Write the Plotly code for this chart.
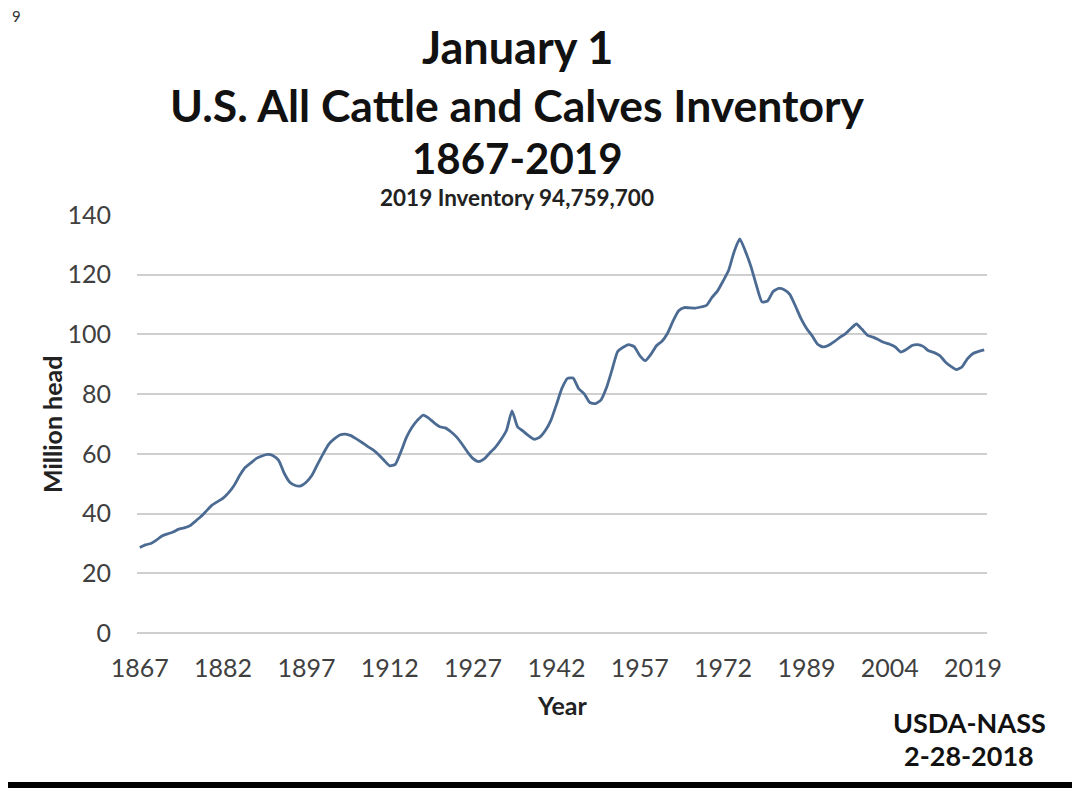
import plotly.graph_objects as go

years = list(range(1867, 2020))
inventory = [
    28.6, 29.5, 30.0, 31.1, 32.5, 33.2, 33.8, 34.8, 35.2, 35.9,   # 1867-1876
    37.4, 39.0, 40.9, 42.8, 44.0, 45.2, 47.0, 49.5, 52.8, 55.5,   # 1877-1886
    57.0, 58.5, 59.3, 59.8, 59.4, 57.8, 53.5, 50.5, 49.4, 49.3,   # 1887-1896
    50.6, 52.8, 56.5, 60.0, 63.2, 65.0, 66.3, 66.6, 66.1, 65.0,   # 1897-1906
    63.8, 62.5, 61.3, 59.7, 57.8, 56.0, 56.5, 60.7, 65.5, 68.9,   # 1907-1916
    71.3, 73.0, 72.0, 70.4, 69.1, 68.7, 67.4, 65.7, 63.3, 60.6,   # 1917-1926
    58.4, 57.4, 58.3, 60.3, 62.2, 64.7, 67.8, 74.4, 69.1, 67.6,   # 1927-1936
    66.1, 64.9, 65.6, 67.8, 71.2, 76.5, 82.0, 85.3, 85.4, 81.8,   # 1937-1946
    80.1, 77.2, 76.8, 78.0, 82.1, 88.1, 94.2, 95.7, 96.6, 95.9,   # 1947-1956
    92.9, 91.2, 93.3, 96.2, 97.7, 100.4, 104.5, 107.9, 109.0, 108.9,  # 1957-1966
    108.8, 109.2, 109.7, 112.4, 114.6, 117.9, 121.5, 127.8, 132.0, 127.9,  # 1967-1976
    122.8, 116.4, 110.9, 111.2, 114.4, 115.4, 115.0, 113.4, 109.6, 105.4,  # 1977-1986
    102.1, 99.6, 96.7, 95.8, 96.4, 97.6, 99.0, 100.2, 102.0, 103.5,  # 1987-1996
    101.7, 99.7, 99.1, 98.2, 97.3, 96.7, 95.8, 94.1, 95.0, 96.3,   # 1997-2006
    96.6, 96.0, 94.5, 93.9, 92.9, 90.8, 89.3, 88.2, 89.1, 91.9,    # 2007-2016
    93.6, 94.3, 94.8,                                              # 2017-2019
]

tick_positions = [1867, 1882, 1897, 1912, 1927, 1942, 1957, 1972, 1987, 2002, 2017]
tick_labels = ["1867", "1882", "1897", "1912", "1927", "1942", "1957", "1972", "1989", "2004", "2019"]
y_ticks = [0, 20, 40, 60, 80, 100, 120, 140]

FONT = "Lato, 'Noto Sans', sans-serif"

# The page body has an 8px margin, so the plot area (screen 137..987 x, 215..633 y)
# is placed with margins reduced by 8px on the left/top.
PL, PR, PT, PB = 137, 987, 215, 633
PW, PH = PR - PL, PB - PT


def px(xs):
    return (xs - PL) / PW


def py(ys):
    return (PB - ys) / PH


fig = go.Figure()
fig.add_trace(go.Scatter(
    x=years, y=inventory, mode="lines",
    line=dict(color="#4c6b93", width=2.8, shape="spline", smoothing=0.5),
    hoverinfo="x+y", showlegend=False,
))

fig.update_layout(
    width=1080, height=788,
    margin=dict(l=PL - 8, r=1080 - PR + 8, t=PT - 8, b=788 - PB + 8),
    paper_bgcolor="white", plot_bgcolor="white",
    font=dict(family=FONT, color="#404040"),
    xaxis=dict(
        range=[1866.5, 2019.5], tickmode="array",
        tickvals=tick_positions, ticktext=tick_labels,
        showgrid=False, zeroline=False, showline=False,
        ticks="outside", ticklen=13, tickcolor="rgba(0,0,0,0)",
        tickfont=dict(size=25, color="#404040", family=FONT),
    ),
    yaxis=dict(
        range=[0, 140], tickmode="array", tickvals=y_ticks,
        showgrid=True, gridcolor="#cfcfcf", gridwidth=1.5,
        zeroline=True, zerolinecolor="#cfcfcf", zerolinewidth=1.5,
        showline=False,
        ticks="outside", ticklen=20, tickcolor="rgba(0,0,0,0)",
        tickfont=dict(size=25, color="#404040", family=FONT),
    ),
)

title_lines = [
    ("January 1", 47, 45),
    ("U.S. All Cattle and Calves Inventory", 104, 44.5),
    ("1867-2019", 158, 42),
]
for text, ypx, size in title_lines:
    fig.add_annotation(
        text=f"<b>{text}</b>", xref="paper", yref="paper",
        x=px(517), y=py(ypx),
        xanchor="center", yanchor="middle", showarrow=False,
        font=dict(size=size, color="#111111", family=FONT),
    )

fig.add_annotation(
    text="<b>2019 Inventory 94,759,700</b>", xref="paper", yref="paper",
    x=px(517), y=py(197),
    xanchor="center", yanchor="middle", showarrow=False,
    font=dict(size=22.5, color="#222222", family=FONT),
)

fig.add_annotation(
    text="<b>Million head</b>", xref="paper", yref="paper",
    x=px(52), y=py(425), textangle=-90,
    xanchor="center", yanchor="middle", showarrow=False,
    font=dict(size=25, color="#222222", family=FONT),
)
fig.add_annotation(
    text="<b>Year</b>", xref="paper", yref="paper",
    x=px(562), y=py(705),
    xanchor="center", yanchor="middle", showarrow=False,
    font=dict(size=25, color="#222222", family=FONT),
)

for text, ypx in [("USDA-NASS", 722), ("2-28-2018", 755)]:
    fig.add_annotation(
        text=f"<b>{text}</b>", xref="paper", yref="paper",
        x=px(969), y=py(ypx),
        xanchor="center", yanchor="middle", showarrow=False,
        font=dict(size=27, color="#111111", family=FONT),
    )

fig.add_annotation(
    text="9", xref="paper", yref="paper",
    x=px(10), y=py(16),
    xanchor="left", yanchor="middle", showarrow=False,
    font=dict(size=15, color="#333333", family=FONT),
)

fig.add_shape(
    type="rect", xref="paper", yref="paper",
    x0=px(0), x1=px(1090),
    y0=py(800), y1=py(782),
    fillcolor="black", line=dict(width=0), layer="above",
)

fig.write_html("out.html")
